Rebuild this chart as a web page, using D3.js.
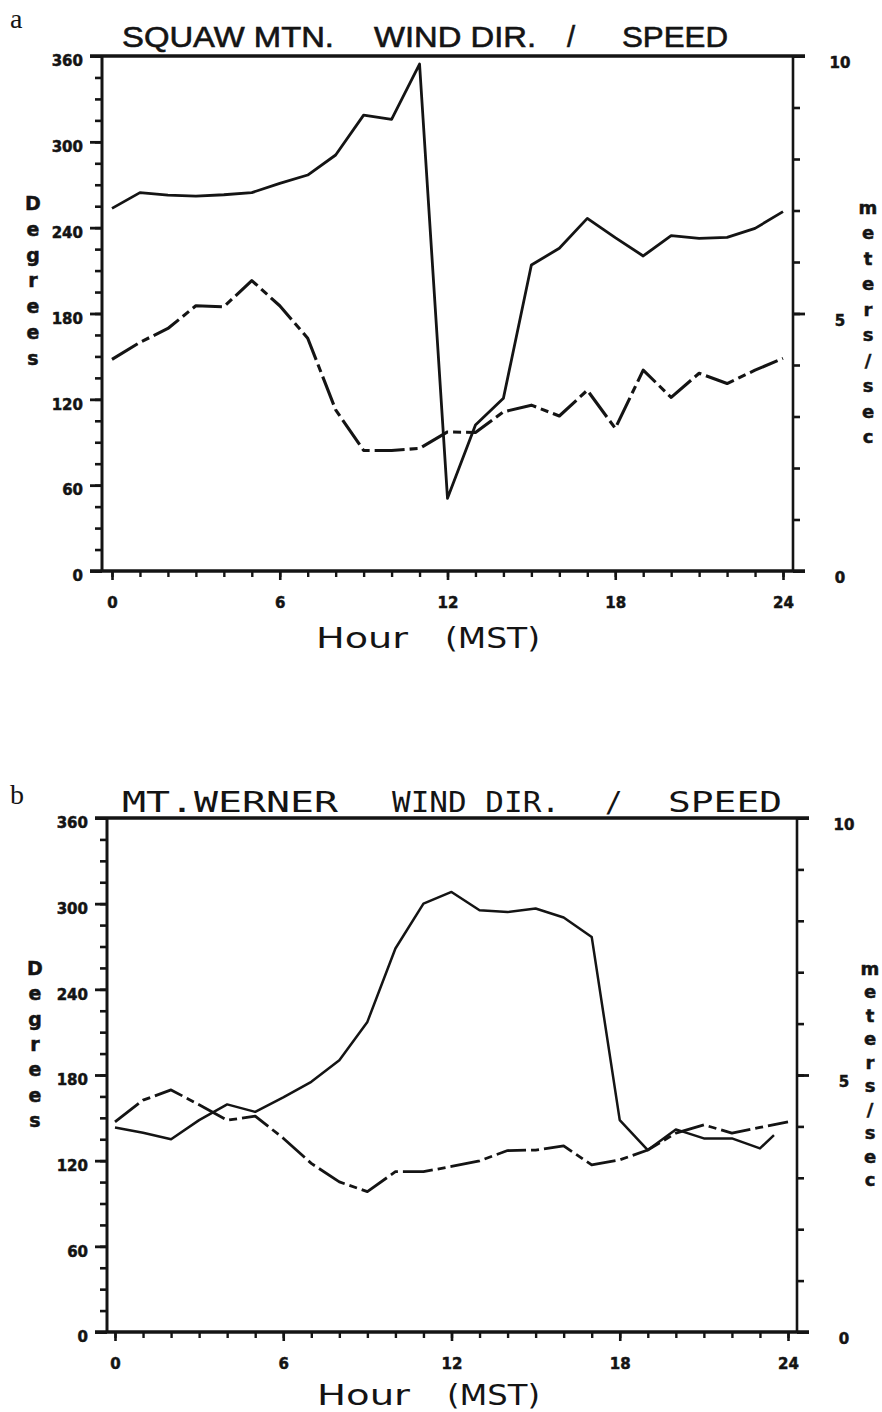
<!DOCTYPE html>
<html><head><meta charset="utf-8">
<script src="https://cdn.jsdelivr.net/npm/d3@7"></script>
<style>
html,body{margin:0;padding:0;background:#fff;}
svg{display:block;}
</style></head>
<body>
<svg id="chart" width="882" height="1412"></svg>
<script>
// ---------------- data ----------------
const hours = d3.range(0, 25);
const hoursDirB = d3.range(0, 24).concat([23.5]);
const xTicksMajor = [0, 6, 12, 18, 24];
const xTicksMinor = d3.range(0, 25);
const degTicksMajor = [0, 60, 120, 180, 240, 300, 360];
const degTicksMinor = d3.range(0, 361, 15);
const spdTicksMajor = [0, 5, 10];
const spdTicksMinor = d3.range(0, 11);

// Squaw Mtn. wind direction (deg) and speed (m/s)
const dirA = [253.5, 264.5, 262.8, 262, 263, 264.5, 271, 276.8, 290.8, 318.7, 315.7, 354.4,
              50.8, 102, 120.7, 213.9, 225.6, 246.5, 233, 220.2, 234.4, 232.5, 233.2, 239.5, 251.2];
const spdA = [4.11, 4.44, 4.71, 5.15, 5.13, 5.64, 5.15, 4.52, 3.13, 2.34, 2.34, 2.38,
              2.70, 2.69, 3.09, 3.22, 3.01, 3.51, 2.77, 3.90, 3.37, 3.84, 3.64, 3.90, 4.13];
// Mt. Werner wind direction (deg) and speed (m/s)
const dirB = [143.3, 139.5, 135, 148.4, 159.4, 154.2, 164.3, 175.2, 190.4, 217.2, 268.6, 300,
              308.2, 295.4, 294.2, 296.6, 290.3, 276.7, 148.4, 127.4, 141.9, 135.6, 135.6, 128.6, 137.9];
const spdB = [4.09, 4.51, 4.71, 4.42, 4.12, 4.20, 3.77, 3.28, 2.92, 2.73, 3.12, 3.12,
              3.22, 3.33, 3.53, 3.54, 3.62, 3.25, 3.35, 3.54, 3.87, 4.03, 3.87, 3.98, 4.09];

const titleA = ["SQUAW MTN.", "WIND DIR.", "/", "SPEED"];
const titleB = ["MT.WERNER", "WIND DIR.", "/", "SPEED"];
const xLabelParts = ["Hour", "(MST)"];
const yLabelLeft = "Degrees";
const yLabelRight = "meters/sec";

// ---------------- layout ----------------
const panels = [
  {letter: "a", title: titleA, dirHours: hours, dir: dirA, spdHours: hours, spd: spdA,
   left: 102, right: 793, top: 56, bottom: 571, x0: 112, x1: 783,
   titleFont: "'Liberation Sans', Arial, sans-serif", titleStroke: 0.6, titleSize: 29,
   titleBoxes: [[122, 334], [374, 536], [567, 580], [622, 728]], titleBase: 47,
   hourBoxes: [[316, 408], [445, 540]], hourBase: 648,
   degX: 33, degY0: 203, degStep: 25.8, mpsX: 868, mpsY0: 207, mpsStep: 25.5,
   letterX: 10, letterBase: 28, lw: 2.8},
  {letter: "b", title: titleB, dirHours: hoursDirB, dir: dirB, spdHours: hours, spd: spdB,
   left: 107, right: 797, top: 818, bottom: 1332, x0: 115, x1: 788,
   titleFont: "'DejaVu Sans Mono', monospace", titleStroke: 0, titleSize: 29,
   titleBoxes: [[122, 338], [392, 560], [605, 624], [668, 782]], titleBase: 812,
   hourBoxes: [[317, 410], [447, 540]], hourBase: 1405,
   degX: 35, degY0: 968, degStep: 25.3, mpsX: 870, mpsY0: 968, mpsStep: 23.5,
   letterX: 10, letterBase: 804, lw: 2.5}
];

const svg = d3.select("#chart");
svg.append("rect").attr("width", 882).attr("height", 1412).attr("fill", "#fff");
const INK = "#141414";
const tickFont = "'DejaVu Sans', Verdana, sans-serif";

function styleAxis(sel, w) {
  sel.select(".domain").remove();
  sel.selectAll(".tick line").attr("stroke", INK).attr("stroke-width", w);
  sel.selectAll(".tick text").attr("fill", INK).attr("font-family", tickFont)
     .attr("font-weight", "bold").attr("font-size", 15)
     .attr("stroke", INK).attr("stroke-width", 0.5);
}

function drawPanel(p) {
  const g = svg.append("g");
  const x = d3.scaleLinear().domain([0, 24]).range([p.x0, p.x1]);
  const y = d3.scaleLinear().domain([0, 360]).range([p.bottom, p.top]);
  const ys = d3.scaleLinear().domain([0, 10]).range([p.bottom, p.top]);

  // left axis minor / major
  g.append("g").attr("transform", `translate(${p.left},0)`)
    .call(d3.axisLeft(y).tickValues(degTicksMinor).tickSize(7).tickFormat(""))
    .call(s => styleAxis(s, 2.6));
  g.append("g").attr("transform", `translate(${p.left},0)`)
    .call(d3.axisLeft(y).tickValues(degTicksMajor).tickSize(12).tickPadding(7).tickFormat(d3.format("d")))
    .call(s => styleAxis(s, 2.8))
    .call(s => s.selectAll(".tick text").attr("y", 5));

  // bottom axis
  g.append("g").attr("transform", `translate(0,${p.bottom})`)
    .call(d3.axisBottom(x).tickValues(xTicksMinor).tickSize(6).tickFormat(""))
    .call(s => styleAxis(s, 2.4));
  g.append("g").attr("transform", `translate(0,${p.bottom})`)
    .call(d3.axisBottom(x).tickValues(xTicksMajor).tickSize(9).tickPadding(17).tickFormat(d3.format("d")))
    .call(s => styleAxis(s, 2.6));

  // right axis
  g.append("g").attr("transform", `translate(${p.right},0)`)
    .call(d3.axisRight(ys).tickValues(spdTicksMinor).tickSize(7).tickFormat(""))
    .call(s => styleAxis(s, 2.6));
  g.append("g").attr("transform", `translate(${p.right},0)`)
    .call(d3.axisRight(ys).tickValues(spdTicksMajor).tickSize(12).tickFormat(d3.format("d")))
    .call(s => styleAxis(s, 2.8))
    .call(s => s.selectAll(".tick text").attr("x", 47).attr("y", 7).attr("text-anchor", "middle"));

  // frame
  g.append("line").attr("x1", p.left - 12).attr("x2", p.right + 12).attr("y1", p.top).attr("y2", p.top)
    .attr("stroke", INK).attr("stroke-width", 3.4);
  g.append("line").attr("x1", p.left - 12).attr("x2", p.right + 12).attr("y1", p.bottom).attr("y2", p.bottom)
    .attr("stroke", INK).attr("stroke-width", 3.4);
  g.append("line").attr("x1", p.left).attr("x2", p.left).attr("y1", p.top).attr("y2", p.bottom)
    .attr("stroke", INK).attr("stroke-width", 3);
  g.append("line").attr("x1", p.right).attr("x2", p.right).attr("y1", p.top).attr("y2", p.bottom)
    .attr("stroke", INK).attr("stroke-width", 2.6);

  // data lines
  const lineDir = d3.line().x(d => x(d[0])).y(d => y(d[1]));
  const lineSpd = d3.line().x(d => x(d[0])).y(d => ys(d[1]));
  g.append("path").datum(d3.zip(p.spdHours, p.spd)).attr("d", lineSpd)
    .attr("fill", "none").attr("stroke", INK).attr("stroke-width", p.lw + 0.3)
    .attr("stroke-dasharray", "30,5,8,5").attr("stroke-linejoin", "round");
  g.append("path").datum(d3.zip(p.dirHours, p.dir)).attr("d", lineDir)
    .attr("fill", "none").attr("stroke", INK).attr("stroke-width", p.lw)
    .attr("stroke-linejoin", "round");

  // title
  p.title.forEach((t, i) => {
    const [a, b] = p.titleBoxes[i];
    const tx = g.append("text").attr("x", a).attr("y", p.titleBase)
      .attr("font-family", p.titleFont)
      .attr("font-size", p.titleSize).attr("fill", INK)
      .attr("stroke", INK).attr("stroke-width", p.titleStroke).text(t);
    if (t.length > 1) tx.attr("textLength", b - a).attr("lengthAdjust", "spacingAndGlyphs");
  });

  // x label
  xLabelParts.forEach((t, i) => {
    const [a, b] = p.hourBoxes[i];
    g.append("text").attr("x", a).attr("y", p.hourBase)
      .attr("font-family", "'DejaVu Sans', sans-serif").attr("font-size", 28)
      .attr("fill", INK).attr("textLength", b - a).attr("lengthAdjust", "spacingAndGlyphs").text(t);
  });

  // vertical stacked labels
  yLabelLeft.split("").forEach((c, i) => {
    g.append("text").attr("x", p.degX).attr("y", p.degY0 + i * p.degStep)
      .attr("text-anchor", "middle").attr("dominant-baseline", "central")
      .attr("font-family", tickFont).attr("font-weight", "bold").attr("font-size", 19)
      .attr("fill", INK).attr("stroke", INK).attr("stroke-width", 0.5).text(c);
  });
  yLabelRight.split("").forEach((c, i) => {
    g.append("text").attr("x", p.mpsX).attr("y", p.mpsY0 + i * p.mpsStep)
      .attr("text-anchor", "middle").attr("dominant-baseline", "central")
      .attr("font-family", tickFont).attr("font-weight", "bold").attr("font-size", 18)
      .attr("fill", INK).attr("stroke", INK).attr("stroke-width", 0.5).text(c);
  });

  // panel letter
  g.append("text").attr("x", p.letterX).attr("y", p.letterBase)
    .attr("font-family", "'Liberation Serif', 'Times New Roman', serif").attr("font-size", 28)
    .attr("fill", INK).text(p.letter);
}

panels.forEach(drawPanel);
</script>
</body></html>
